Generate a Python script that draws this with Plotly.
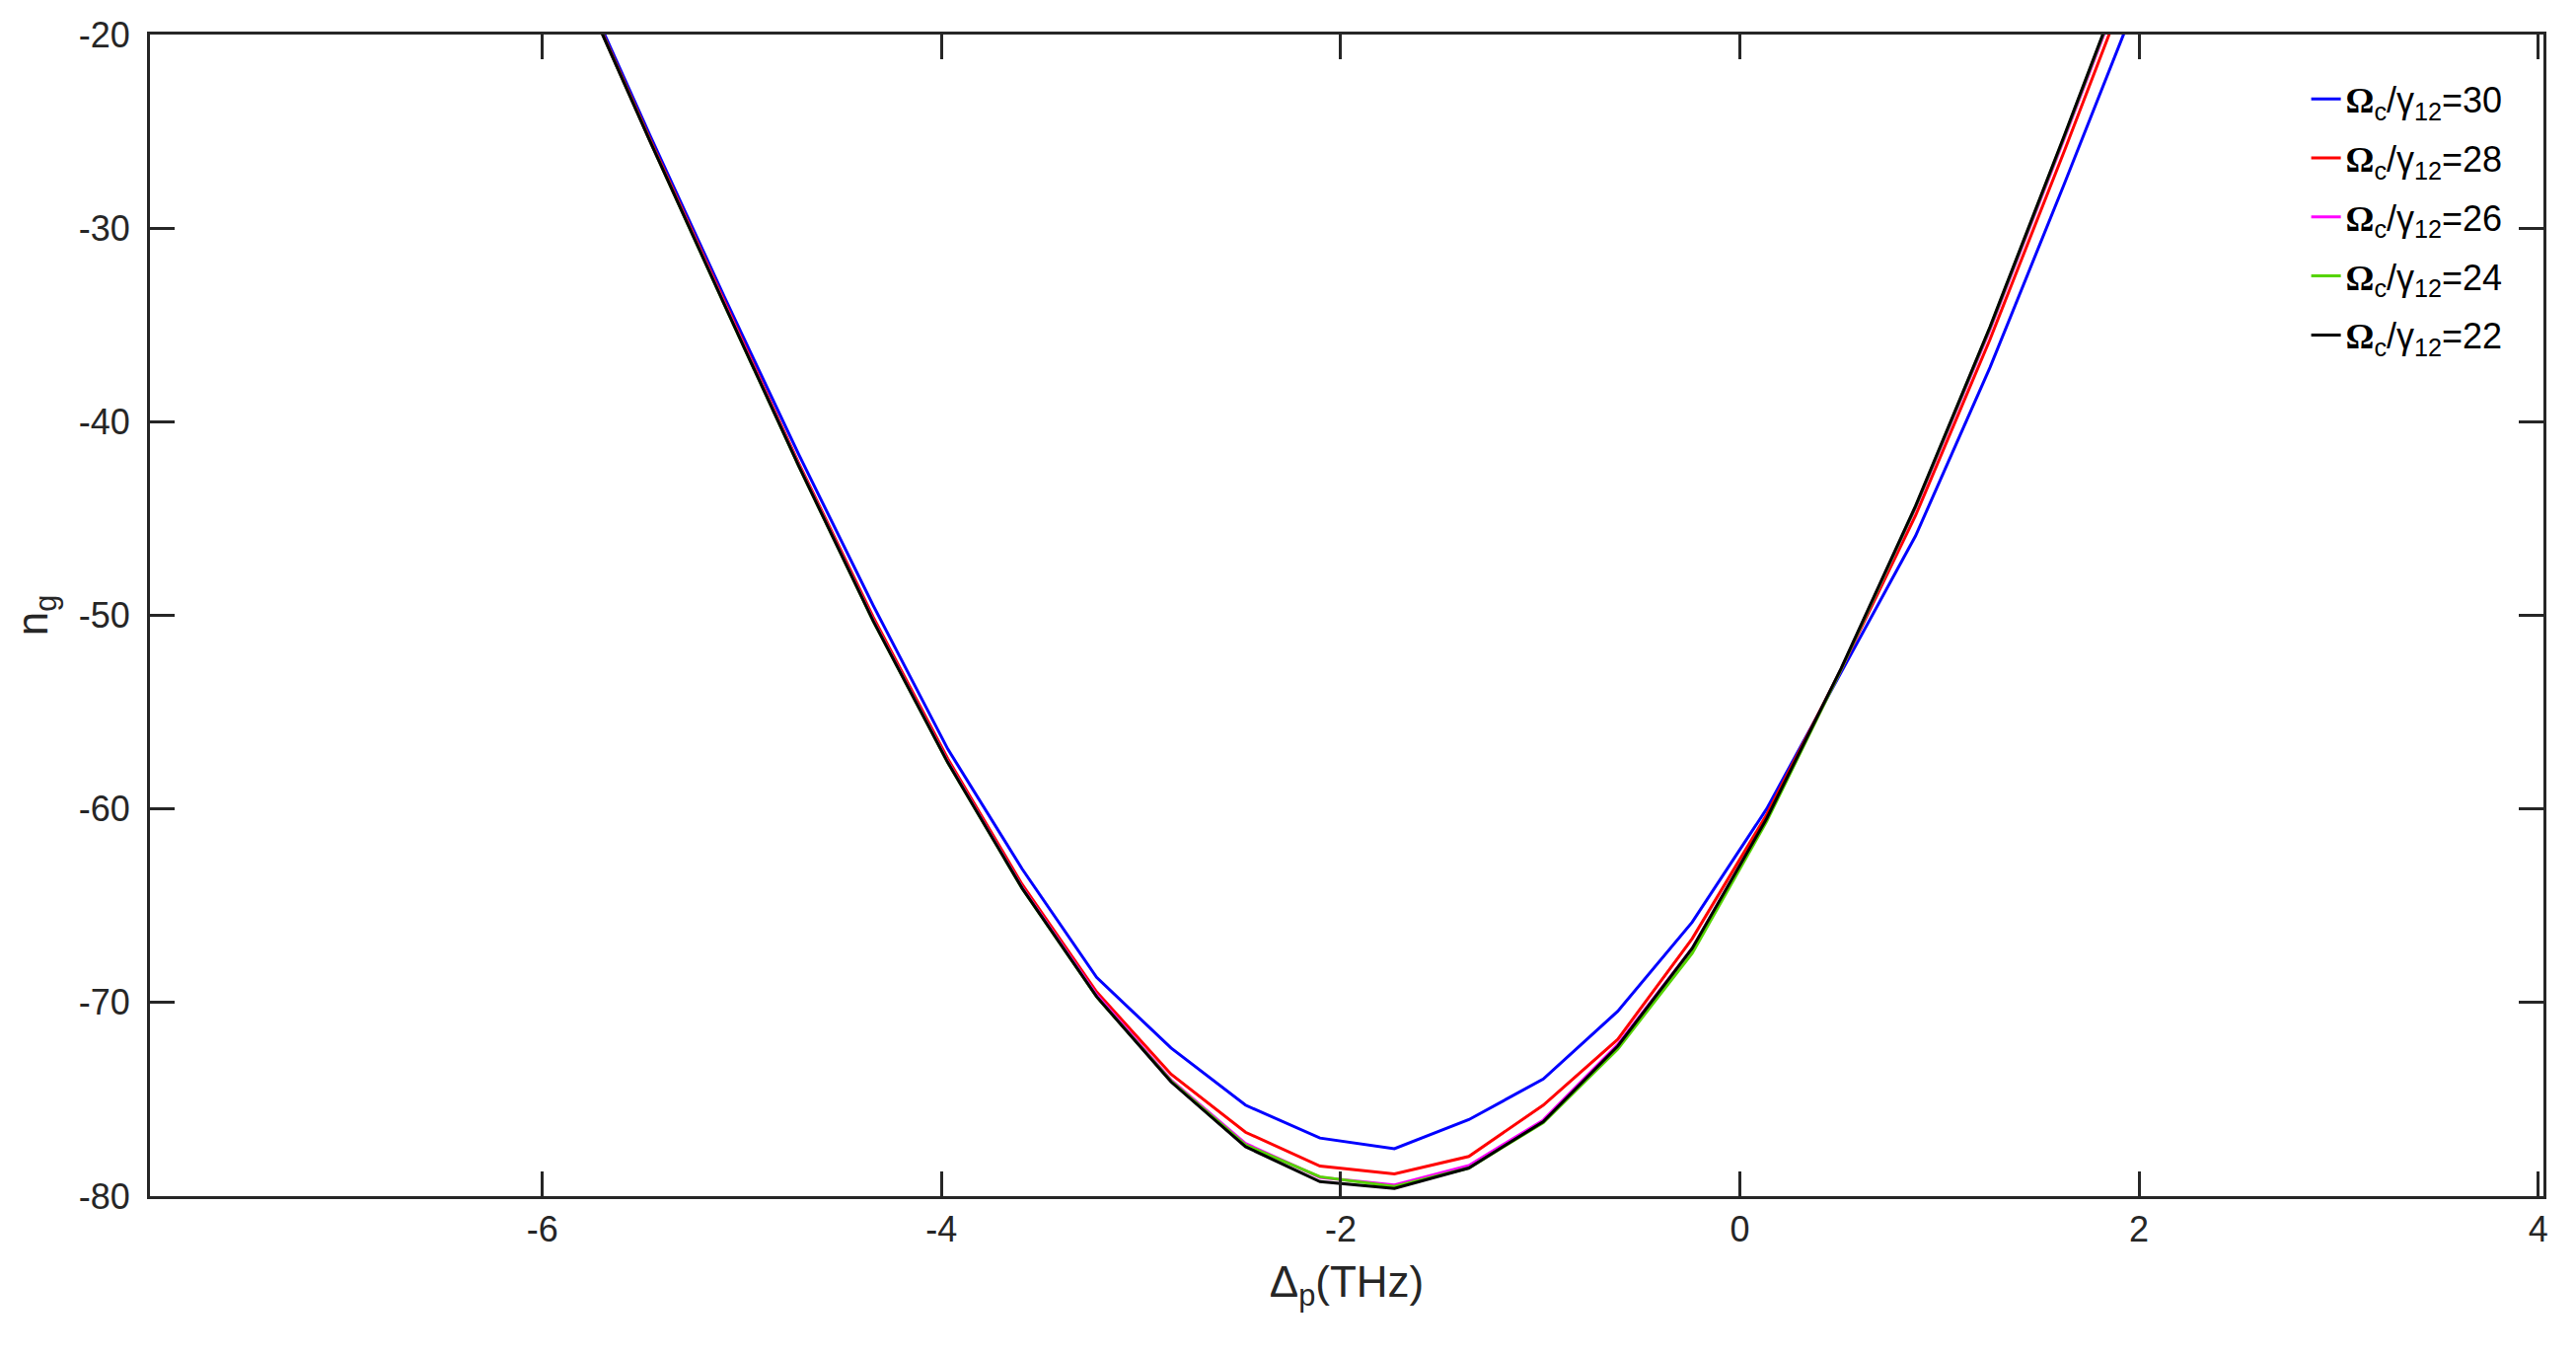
import plotly.graph_objects as go

# Probe detuning (THz)
delta_p = [-6.207, -5.834, -5.461, -5.088, -4.715, -4.342, -3.969, -3.596,
           -3.223, -2.850, -2.477, -2.104, -1.731, -1.358, -0.985, -0.612,
           -0.239, 0.134, 0.507, 0.880, 1.253, 1.626, 1.999, 2.372]

ng_30 = [-7.9, -16.65, -25.2, -33.55, -41.7, -49.5, -56.9, -63.1,
         -68.7, -72.35, -75.3, -77.0, -77.55, -76.05, -73.95, -70.45,
         -65.85, -60.0, -52.95, -45.9, -37.2, -27.7, -18.0, -8.0]
ng_28 = [-7.95, -16.8, -25.4, -33.8, -42.15, -50.1, -57.4, -63.9,
         -69.45, -73.7, -76.7, -78.45, -78.85, -77.95, -75.3, -71.9,
         -66.7, -60.3, -52.8, -44.85, -35.75, -26.0, -16.1, -6.0]
ng_26 = [-8.0, -16.85, -25.5, -33.9, -42.25, -50.25, -57.55, -64.05,
         -69.6, -74.0, -77.28, -79.03, -79.43, -78.42, -76.07, -72.17,
         -67.2, -60.55, -52.8, -44.45, -35.25, -25.35, -15.3, -5.2]
ng_24 = [-8.0, -16.85, -25.5, -33.95, -42.3, -50.3, -57.6, -64.1,
         -69.7, -74.05, -77.35, -79.0, -79.5, -78.55, -76.2, -72.4,
         -67.45, -60.65, -52.8, -44.4, -35.15, -25.25, -15.15, -5.05]
ng_22 = [-8.0, -16.85, -25.5, -33.95, -42.3, -50.3, -57.6, -64.1,
         -69.7, -74.1, -77.45, -79.25, -79.6, -78.55, -76.15, -72.25,
         -67.2, -60.5, -52.75, -44.35, -35.1, -25.2, -15.1, -5.0]

ratios = ["30", "28", "26", "24", "22"]
series = [ng_30, ng_28, ng_26, ng_24, ng_22]
colors = ["#0000FF", "#FF0000", "#FF00FF", "#55D400", "#000000"]

x_ticks = [-6, -4, -2, 0, 2, 4]
x_ticklabels = ["-6", "-4", "-2", "0", "2", "4"]
y_ticks = [-80, -70, -60, -50, -40, -30, -20]
y_ticklabels = ["-80", "-70", "-60", "-50", "-40", "-30", "-20"]

FONT = "Liberation Sans, Arial, Helvetica, sans-serif"
AX = "#262626"

OMEGA = '<span style="font-family:Liberation Serif;font-weight:bold">Ω</span>'

fig = go.Figure()
for r, ys, c in zip(ratios, series, colors):
    fig.add_trace(go.Scatter(
        x=delta_p, y=ys, mode="lines",
        line=dict(color=c, width=3),
        name=OMEGA + "<sub>c</sub>/γ<sub>12</sub>=" + r,
        legendgroup="g" + r,
    ))

axis_common = dict(
    showline=True, linecolor=AX, linewidth=3, mirror="ticks",
    ticks="inside", ticklen=25, tickwidth=3, tickcolor=AX,
    showgrid=False, zeroline=False, automargin=False,
    tickfont=dict(family=FONT, size=36, color=AX),
)

# page body has an 8px default margin; compensate so the plot area lands in place
fig.update_layout(
    width=2595, height=1359,
    margin=dict(l=144, r=25, t=27, b=155),
    paper_bgcolor="white", plot_bgcolor="white",
    font=dict(family=FONT, color=AX),
    xaxis=dict(range=[-7.966, 4.026], tickvals=x_ticks, ticktext=x_ticklabels,
               title=dict(text="Δ<sub>p</sub>(THz)", font=dict(family=FONT, size=44, color=AX), standoff=18),
               **axis_common),
    yaxis=dict(range=[-80, -20], tickvals=y_ticks, ticktext=y_ticklabels,
               ticklabelstandoff=10,
               title=dict(text="n<sub>g</sub>", font=dict(family=FONT, size=44, color=AX), standoff=20),
               **axis_common),
    legend=dict(x=0.985, xanchor="right", y=0.970, yanchor="top",
                bgcolor="rgba(255,255,255,0)", borderwidth=0,
                font=dict(family=FONT, size=36, color="#000000"),
                tracegroupgap=10, traceorder="grouped"),
    showlegend=True,
)

fig.write_html("out.html")
